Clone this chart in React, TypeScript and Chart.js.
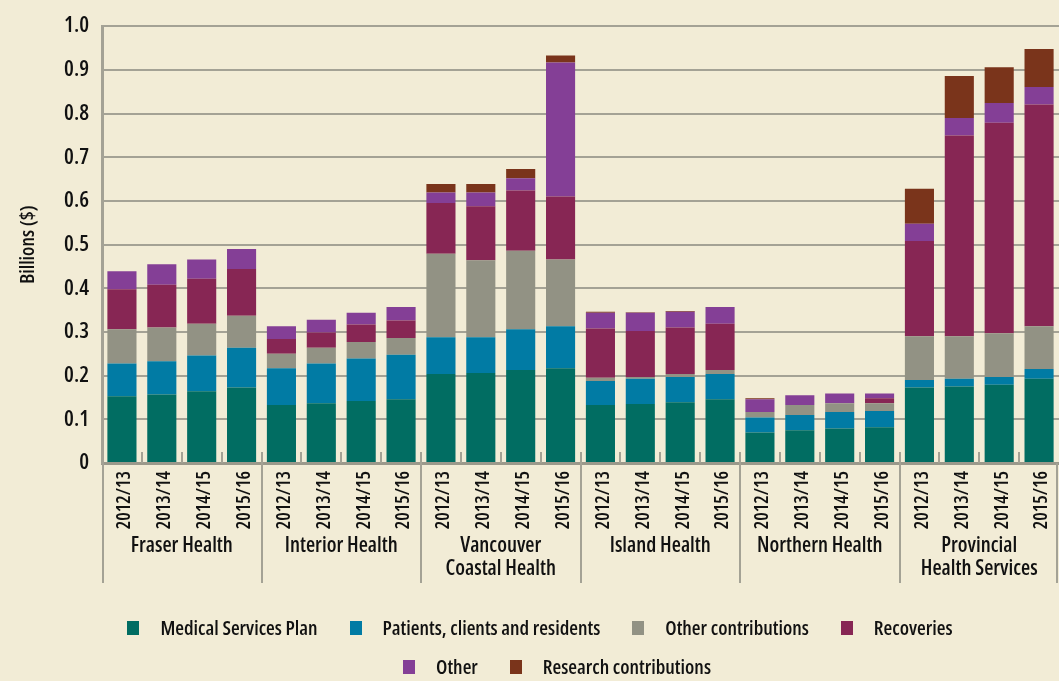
import React, { useEffect, useRef } from 'react';
import { Chart, registerables } from 'chart.js';

Chart.register(...registerables);

// ---- Data ----
const YEARS = ['2012/13', '2013/14', '2014/15', '2015/16'];
const GROUPS: (string | string[])[] = [
  'Fraser Health',
  'Interior Health',
  ['Vancouver', 'Coastal Health'],
  'Island Health',
  'Northern Health',
  ['Provincial', 'Health Services'],
];

const SERIES_NAMES = [
  'Medical Services Plan',
  'Patients, clients and residents',
  'Other contributions',
  'Recoveries',
  'Other',
  'Research contributions',
];

const MSP = [0.153, 0.157, 0.164, 0.173, 0.133, 0.137, 0.142, 0.146, 0.204, 0.206, 0.213, 0.217, 0.133, 0.135, 0.139, 0.146, 0.070, 0.075, 0.079, 0.082, 0.173, 0.175, 0.179, 0.193];
const PATIENTS = [0.075, 0.076, 0.082, 0.091, 0.084, 0.091, 0.097, 0.102, 0.084, 0.082, 0.093, 0.096, 0.055, 0.058, 0.058, 0.058, 0.034, 0.035, 0.038, 0.037, 0.017, 0.018, 0.018, 0.022];
const OTHER_CONTRIB = [0.078, 0.077, 0.073, 0.073, 0.033, 0.036, 0.038, 0.038, 0.191, 0.176, 0.180, 0.153, 0.007, 0.004, 0.007, 0.009, 0.013, 0.023, 0.020, 0.018, 0.100, 0.097, 0.100, 0.098];
const RECOVERIES = [0.092, 0.098, 0.103, 0.107, 0.034, 0.035, 0.040, 0.040, 0.116, 0.124, 0.138, 0.144, 0.113, 0.105, 0.106, 0.106, 0, 0, 0, 0.011, 0.218, 0.460, 0.482, 0.508];
const OTHER = [0.041, 0.047, 0.044, 0.046, 0.029, 0.029, 0.027, 0.031, 0.024, 0.031, 0.028, 0.307, 0.036, 0.042, 0.036, 0.038, 0.029, 0.022, 0.022, 0.011, 0.040, 0.040, 0.045, 0.040];
const RESEARCH = [0, 0, 0, 0, 0, 0, 0, 0, 0.020, 0.020, 0.021, 0.016, 0.002, 0.001, 0.002, 0, 0.002, 0, 0, 0, 0.080, 0.096, 0.082, 0.087];

const COLORS = ['#016D62', '#017BA4', '#929284', '#872654', '#843F96', '#7A341B'];

const FAMILY = "'Open Sans', 'Roboto', sans-serif";
const WEIGHT = '600 condensed';
const fontStr = (size: number) => `${WEIGHT} ${size}px ${FAMILY}`;
const BG = '#F2ECD6';
const TEXT = '#111111';
const GRID = '#A4A295';

export default function App() {
  const ref = useRef<HTMLCanvasElement>(null);

  useEffect(() => {
    document.body.style.margin = '0';
    document.body.style.background = BG;
    const canvas = ref.current;
    if (!canvas) return;

    const labels = GROUPS.flatMap(() => YEARS);
    const values = [MSP, PATIENTS, OTHER_CONTRIB, RECOVERIES, OTHER, RESEARCH];

    const bgPlugin = {
      id: 'bgFill',
      beforeDraw(chart: any) {
        const c = chart.ctx;
        c.save();
        c.fillStyle = BG;
        c.fillRect(0, 0, chart.width, chart.height);
        c.restore();
      },
    };

    const groupPlugin = {
      id: 'groupAxis',
      afterDraw(chart: any) {
        const { ctx, chartArea } = chart;
        const xs = chart.scales.x;
        const n = labels.length;
        const half = (xs.getPixelForValue(1) - xs.getPixelForValue(0)) / 2;
        ctx.save();
        ctx.strokeStyle = GRID;
        ctx.lineWidth = 2;
        for (let i = 1; i < n; i++) {
          const px = Math.round(xs.getPixelForValue(i) - half);
          ctx.beginPath();
          ctx.moveTo(px, chartArea.bottom - 11);
          ctx.lineTo(px, chartArea.bottom);
          ctx.stroke();
        }
        for (let g = 0; g <= GROUPS.length; g++) {
          let px: number;
          if (g === GROUPS.length) px = chartArea.right - 2;
          else px = Math.round(xs.getPixelForValue(g * YEARS.length) - half) + (g === 0 ? 1 : 0);
          ctx.beginPath();
          ctx.moveTo(px, chartArea.bottom);
          ctx.lineTo(px, chartArea.bottom + 120);
          ctx.stroke();
        }
        // year labels (rotated, reading bottom to top)
        ctx.fillStyle = TEXT;
        ctx.font = fontStr(19);
        ctx.textAlign = 'right';
        ctx.textBaseline = 'middle';
        labels.forEach((lab, i) => {
          const px = xs.getPixelForValue(i);
          ctx.save();
          ctx.translate(px + 3, chartArea.bottom + 8);
          ctx.rotate(-Math.PI / 2);
          ctx.fillText(lab, 0, 0);
          ctx.restore();
        });
        // group labels
        ctx.font = fontStr(21);
        ctx.textAlign = 'center';
        ctx.textBaseline = 'middle';
        GROUPS.forEach((g, gi) => {
          const a = xs.getPixelForValue(gi * YEARS.length) - half;
          const b = xs.getPixelForValue((gi + 1) * YEARS.length - 1) + half;
          const cx = (a + b) / 2;
          const lines = Array.isArray(g) ? g : [g];
          lines.forEach((t, li) => ctx.fillText(t, cx, chartArea.bottom + 83 + li * 23));
        });
        ctx.restore();
      },
    };

    const legendPlugin = {
      id: 'customLegend',
      afterDraw(chart: any) {
        const ctx = chart.ctx;
        ctx.save();
        ctx.font = fontStr(20);
        ctx.textBaseline = 'middle';
        ctx.textAlign = 'left';
        const rows = [
          { items: [0, 1, 2, 3], cx: 540, cy: 628 },
          { items: [4, 5], cx: 557, cy: 667 },
        ];
        rows.forEach((r) => {
          const widths = r.items.map((i) => 12 + 21 + ctx.measureText(chart.data.datasets[i].label).width);
          const total = widths.reduce((a: number, b: number) => a + b, 0) + 32 * (r.items.length - 1);
          let x = r.cx - total / 2;
          r.items.forEach((i, k) => {
            const ds = chart.data.datasets[i];
            ctx.fillStyle = ds.backgroundColor;
            ctx.fillRect(Math.round(x), r.cy - 7, 12, 14);
            ctx.fillStyle = TEXT;
            ctx.fillText(ds.label, x + 33, r.cy + 1);
            x += widths[k] + 32;
          });
        });
        ctx.restore();
      },
    };

    const chart = new Chart(canvas, {
      type: 'bar',
      data: {
        labels,
        datasets: SERIES_NAMES.map((name, i) => ({
          label: name,
          data: values[i],
          backgroundColor: COLORS[i],
          borderWidth: 0,
          barPercentage: 0.73,
          categoryPercentage: 1,
        })),
      },
      options: {
        responsive: false,
        devicePixelRatio: 1,
        animation: false,
        events: [],
        layout: { padding: { top: 0, left: 0, right: 0, bottom: 98 } },
        plugins: {
          legend: { display: false },
          tooltip: { enabled: false },
        },
        scales: {
          x: {
            stacked: true,
            offset: true,
            grid: { display: false, drawTicks: false },
            border: { display: true, color: '#9B998B', width: 3 },
            ticks: { display: false },
            afterFit(s: any) {
              s.height = 120;
            },
          },
          y: {
            stacked: true,
            min: 0,
            max: 1,
            ticks: {
              stepSize: 0.1,
              padding: 13,
              color: TEXT,
              font: { family: FAMILY, size: 22, weight: WEIGHT as any },
              callback: (v: any) => (Number(v) === 0 ? '0' : Number(v).toFixed(1)),
            },
            grid: { color: GRID, lineWidth: 2, drawTicks: false },
            border: { display: true, color: GRID, width: 3 },
            title: {
              display: true,
              text: 'Billions ($)',
              color: TEXT,
              font: { family: FAMILY, size: 20, weight: WEIGHT as any },
              padding: { top: 16, bottom: 0 },
            },
            afterFit(s: any) {
              s.width = 102;
            },
          },
        },
      },
      plugins: [bgPlugin, groupPlugin, legendPlugin],
    });

    return () => chart.destroy();
  }, []);

  return (
    <div style={{ position: 'absolute', left: 0, top: 0, width: 1059, height: 681, background: BG }}>
      <canvas ref={ref} width={1059} height={681} style={{ display: 'block' }} />
    </div>
  );
}
